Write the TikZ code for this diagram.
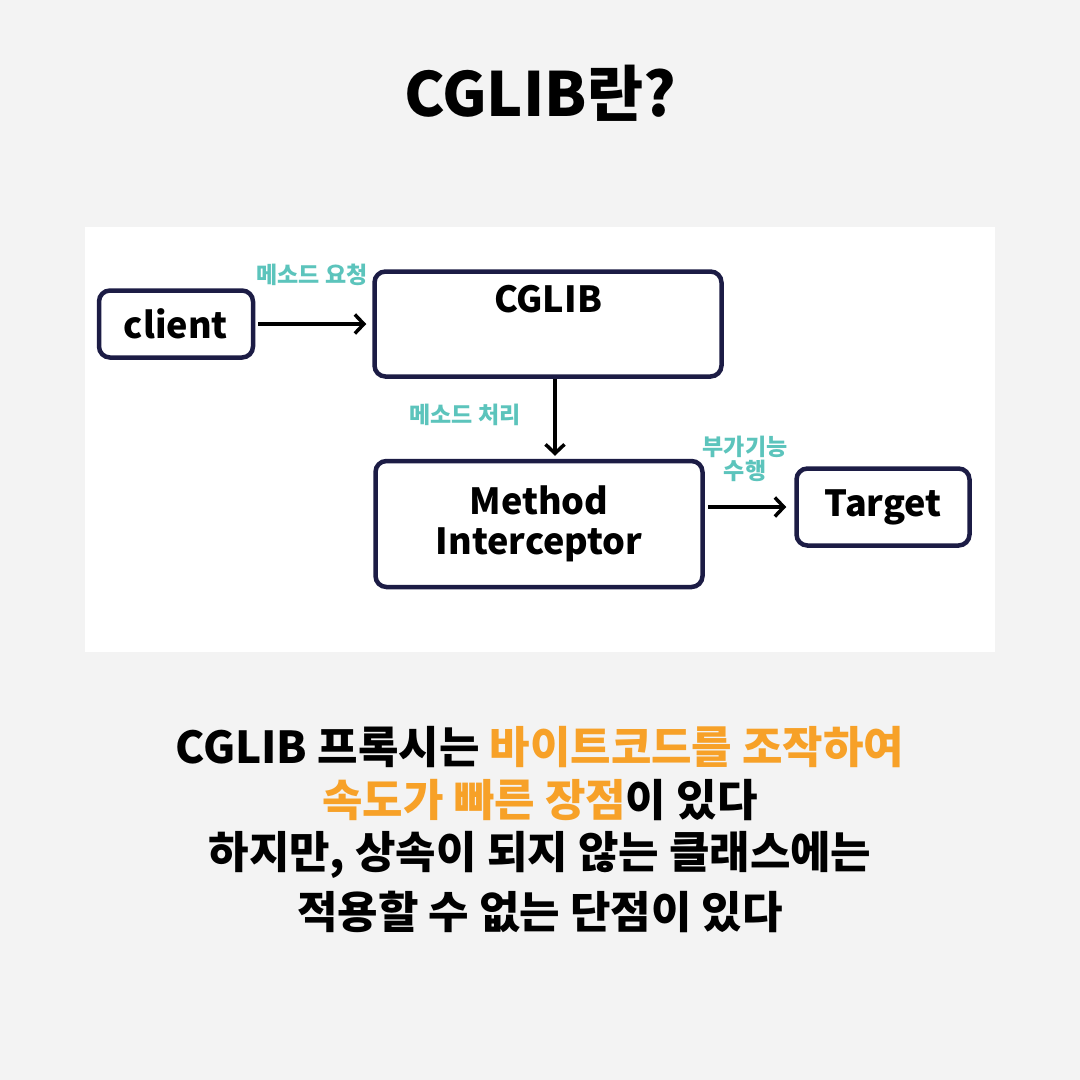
\documentclass[tikz,border=0pt]{standalone}
\usepackage{fontspec}
\setmainfont{Noto Sans CJK KR}
\usepackage{xcolor}
\usetikzlibrary{arrows.meta, positioning}

\definecolor{boxline}{HTML}{1C1C45}
\definecolor{notecol}{HTML}{5CC4BC}
\definecolor{hilite}{HTML}{F7A128}
\definecolor{paper}{HTML}{F3F3F3}

\begin{document}
\begin{tikzpicture}
  [
    x=1pt, y=-1pt,
    Box/.style={rectangle, rounded corners=11pt, draw=boxline, line width=4.5pt, fill=white, align=center, font=\fontsize{36}{40}\selectfont\bfseries},
    Note/.style={text=notecol, align=center, font=\fontsize{23}{24}\selectfont\bfseries},
    Line/.style={text=black, font=\fontsize{44}{48}\selectfont\bfseries},
    Arrow/.style={-{Straight Barb[length=9pt, width=19pt]}, line width=3.5pt}
  ]
  \useasboundingbox (0,0) rectangle (1080,1080);
  \fill[paper] (0,0) rectangle (1080,1080);
  \fill[white] (85,227) rectangle (995,652);

  % Title
  \node[text=black, font=\fontsize{61}{66}\selectfont\bfseries] (title) at(540, 93) {CGLIB란?};

  % Nodes
  \node[Box, minimum width=154pt, minimum height=67pt] (client) at(176, 324) {client};
  \node[Box, minimum width=347pt, minimum height=105pt,
        label={[anchor=north, yshift=-12pt, font=\fontsize{36}{40}\selectfont\bfseries]north:CGLIB}] (cglib) at(548, 324) {};
  \node[Box, minimum width=327pt, minimum height=126pt] (mi) at(539, 524) {Method\\Interceptor};
  \node[Box, minimum width=173pt, minimum height=77pt] (target) at(883, 507) {Target};

  % Labels
  \node[Note] (req) at(312, 275) {메소드 요청};
  \node[Note] (proc) at(465, 415) {메소드 처리};
  \node[Note] (extra) at(745, 459) {부가기능\\수행};

  % Lines
  \path [Arrow, draw, shorten <=3pt, shorten >=6pt] (client) -- (cglib);
  \path [Arrow, draw, shorten >=3pt] ([xshift=7pt]cglib.south) -- ([xshift=7pt]cglib.south |- mi.north);
  \path [Arrow, draw, shorten <=3pt, shorten >=8pt] (mi.east |- target.west) -- (target.west);

  % Text
  \node[Line] (l1) at(540, 747) {CGLIB 프록시는 \textcolor{hilite}{바이트코드를 조작하여}};
  \node[Line] (l2) at(540, 800) {\textcolor{hilite}{속도가 빠른 장점}이 있다};
  \node[Line] (l3) at(540, 855) {하지만, 상속이 되지 않는 클래스에는};
  \node[Line] (l4) at(540, 912) {적용할 수 없는 단점이 있다};

\end{tikzpicture}
\end{document}
